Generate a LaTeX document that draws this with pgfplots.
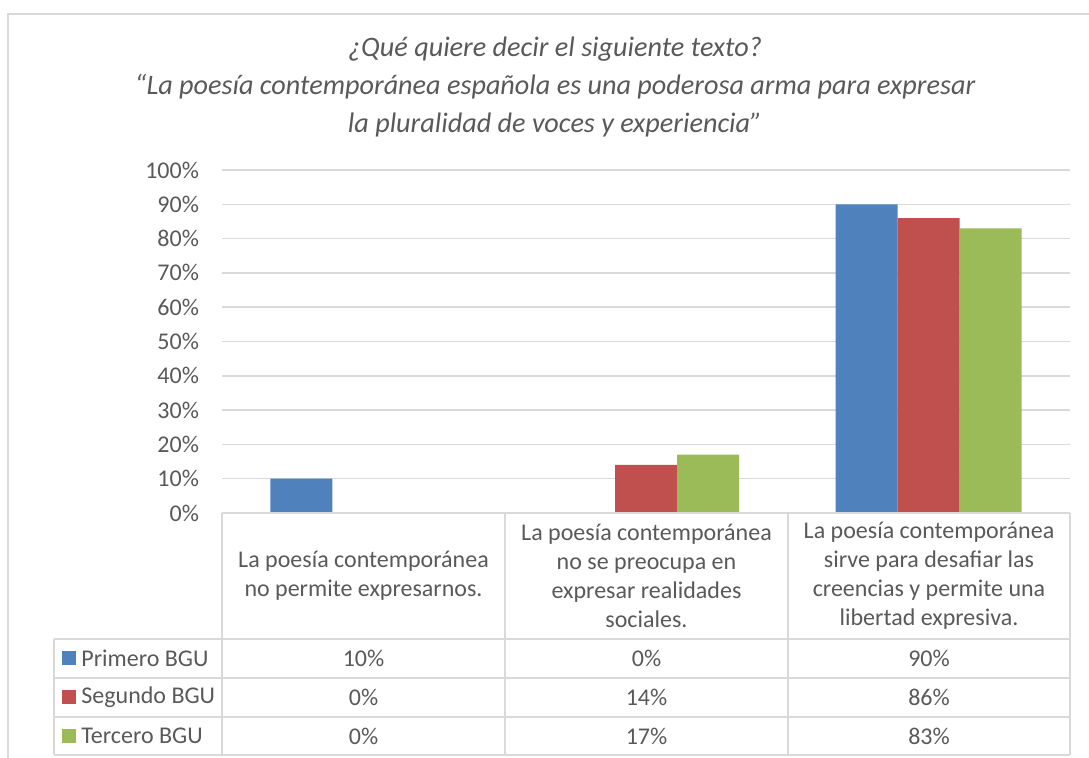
\documentclass[border=0pt]{standalone}
\usepackage{fontspec}
\setmainfont{Carlito}
\usepackage{pgfplots}
\pgfplotsset{compat=1.18}
\definecolor{cblue}{HTML}{4F81BD}
\definecolor{cred}{HTML}{C0504D}
\definecolor{cgreen}{HTML}{9BBB59}
\definecolor{gridgray}{HTML}{D9D9D9}
\definecolor{txtgray}{HTML}{595959}

\begin{document}
\begin{tikzpicture}
  % the plot area: 1 px of the reference = 0.5pt, origin at its top-left corner
  \begin{axis}[
      at={(111pt,-256.5pt)}, anchor=south west,
      scale only axis, width=424pt, height=171.5pt,
      xmin=-0.5, xmax=2.5, ymin=0, ymax=100,
      ybar=0pt, bar width=31pt,
      xtick=\empty, ytick={0,10,...,100},
      yticklabel={\pgfmathprintnumber{\tick}\%},
      /pgf/number format/assume math mode=true,
      ymajorgrids, grid style={gridgray, line width=0.75pt},
      axis line style={draw=none}, major tick length=0pt,
      tick label style={font=\fontsize{12}{14}\selectfont, text=txtgray},
      yticklabel style={xshift=-8pt},
    ]
    \addplot[fill=cblue, draw=none] coordinates {(0,10) (1,0) (2,90)};
    \addplot[fill=cred, draw=none] coordinates {(0,0) (1,14) (2,86)};
    \addplot[fill=cgreen, draw=none] coordinates {(0,0) (1,17) (2,83)};
  \end{axis}

  \begin{scope}[x=0.5pt,y=-0.5pt]
  \useasboundingbox (0,0) rectangle (1089,758);
  % chart frame
  \draw[gridgray, line width=1pt] (8,758) -- (8,14) -- (1089,14);
  % title
  \node[font=\itshape\fontsize{14.1}{19}\selectfont, text=txtgray, align=center]
    at (555,86.5) {¿Qué quiere decir el siguiente texto?\\
      “La poesía contemporánea española es una poderosa arma para expresar\\
      la pluralidad de voces y experiencia”};

  % data table
  \begin{scope}[gridgray, line width=0.75pt]
    \draw (222,513) -- (1070,513);
    \foreach \yy in {639,678,717,755} \draw (54,\yy) -- (1070,\yy);
    \draw (54,639) -- (54,755);
    \foreach \xx in {222,505,788,1070} \draw (\xx,513) -- (\xx,755);
  \end{scope}
  \begin{scope}[every node/.style={font=\fontsize{12}{14.5}\selectfont, text=txtgray, align=center}]
    \node at (363.5,576) {La poesía contemporánea\\no permite expresarnos.};
    \node at (646.5,576) {La poesía contemporánea\\no se preocupa en\\expresar realidades\\sociales.};
    \node at (929,576) {La poesía contemporánea\\sirve para desafiar las\\creencias y permite una\\libertad expresiva.};
    \node at (363.5,658.5) {10\%};
    \node at (646.5,658.5) {0\%};
    \node at (929,658.5) {90\%};
    \node at (363.5,697.5) {0\%};
    \node at (646.5,697.5) {14\%};
    \node at (929,697.5) {86\%};
    \node at (363.5,736) {0\%};
    \node at (646.5,736) {17\%};
    \node at (929,736) {83\%};
    \node[anchor=west, inner sep=0pt] at (81,658.5) {Primero BGU};
    \node[anchor=west, inner sep=0pt] at (81,697.5) {Segundo BGU};
    \node[anchor=west, inner sep=0pt] at (81,736) {Tercero BGU};
  \end{scope}
  \fill[cblue] (62,651.5) rectangle (76,665.5);
  \fill[cred] (62,690.5) rectangle (76,704.5);
  \fill[cgreen] (62,729) rectangle (76,743);
  \end{scope}
\end{tikzpicture}
\end{document}
